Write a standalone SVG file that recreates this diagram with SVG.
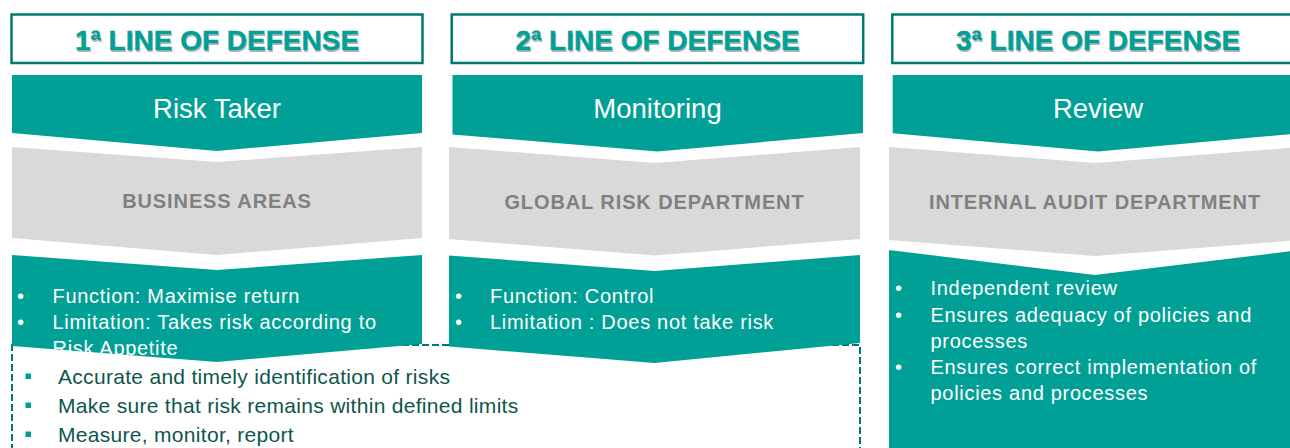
<svg xmlns="http://www.w3.org/2000/svg" width="1290" height="448" viewBox="0 0 1290 448">
<style>
.hdr{fill:#fff;stroke:#007A70;stroke-width:2.5}
.htx{font-family:"Liberation Sans",Arial,sans-serif;font-weight:bold;font-size:28px;fill:#00A096;stroke:#00A096;stroke-width:0.4;text-anchor:middle}
.hsh{font-family:"Liberation Sans",Arial,sans-serif;font-weight:bold;font-size:28px;fill:#7a7a7a;opacity:0.55;text-anchor:middle}
.teal{fill:#00A096}
.gray{fill:#D9D9D9}
.ttl{font-family:"Liberation Sans",Arial,sans-serif;font-size:27.5px;fill:#fff;text-anchor:middle}
.dep{font-family:"Liberation Sans",Arial,sans-serif;font-weight:bold;font-size:20px;letter-spacing:0.9px;fill:#808080;text-anchor:middle}
.bt{font-family:"Liberation Sans",Arial,sans-serif;font-size:20px;letter-spacing:0.7px;fill:#fff}
.dt{font-family:"Liberation Sans",Arial,sans-serif;font-size:21px;letter-spacing:0.3px;fill:#0E564D}
.sq{fill:#00A096}
.dash{fill:none;stroke:#007A70;stroke-width:2;stroke-dasharray:7 3}
</style>
<g id="connectors">
<rect class="dash" x="12" y="345" width="848" height="120"/>
</g>
<g id="col1">
<rect class="hdr" x="11.5" y="14.5" width="411" height="48.5"/>
<text class="hsh" x="218" y="51.5">1ª LINE OF DEFENSE</text>
<text class="htx" x="217" y="50">1ª LINE OF DEFENSE</text>
<polygon class="teal" points="12,75 422,75 422,133 217,151 12,133"/>
<text class="ttl" x="217" y="118">Risk Taker</text>
<polygon class="gray" points="12,147 217,162 422,147 422,238 217,255 12,238"/>
<text class="dep" x="217" y="208">BUSINESS AREAS</text>
<polygon class="teal" points="12,255 217,270 422,255 422,344 217,362 12,346"/>
<text class="bt" x="17" y="302.5">•</text>
<text class="bt" x="52.5" y="302.5">Function: Maximise return</text>
<text class="bt" x="17" y="328.5">•</text>
<text class="bt" x="52.5" y="328.5">Limitation: Takes risk according to</text>
<text class="bt" x="52.5" y="354.5">Risk Appetite</text>
</g>
<g id="col2">
<rect class="hdr" x="451.7" y="14.5" width="411.5" height="48.5"/>
<text class="hsh" x="658.5" y="51.5">2ª LINE OF DEFENSE</text>
<text class="htx" x="657.5" y="50">2ª LINE OF DEFENSE</text>
<polygon class="teal" points="452.5,75 863,75 863,133 657.5,151.5 452.5,134.5"/>
<text class="ttl" x="657.5" y="118">Monitoring</text>
<polygon class="gray" points="449,147 654.5,163 860,147 860,239 654.5,255.5 449,239"/>
<text class="dep" x="654.5" y="208.5">GLOBAL RISK DEPARTMENT</text>
<polygon class="teal" points="449,255.5 654.5,271 860,255 860,343 654.5,363 449,346.5"/>
<text class="bt" x="455" y="303">•</text>
<text class="bt" x="490" y="303">Function: Control</text>
<text class="bt" x="455" y="329">•</text>
<text class="bt" x="490" y="329">Limitation : Does not take risk</text>
</g>
<g id="col3">
<rect class="hdr" x="892.3" y="14.5" width="412" height="48.5"/>
<text class="hsh" x="1099" y="51.5">3ª LINE OF DEFENSE</text>
<text class="htx" x="1098" y="50">3ª LINE OF DEFENSE</text>
<polygon class="teal" points="892.7,75 1304,75 1304,133 1098,151.5 892.7,133.3"/>
<text class="ttl" x="1098" y="118">Review</text>
<polygon class="gray" points="889,147 1095,163 1301,147 1301,240 1095,256 889,240"/>
<text class="dep" x="1095" y="208.5">INTERNAL AUDIT DEPARTMENT</text>
<polygon class="teal" points="889,250 1095,275 1301,250 1301,460 889,460"/>
<text class="bt" x="895" y="295">•</text>
<text class="bt" x="930.5" y="295">Independent review</text>
<text class="bt" x="895" y="321.5">•</text>
<text class="bt" x="930.5" y="321.5">Ensures adequacy of policies and</text>
<text class="bt" x="930.5" y="347.5">processes</text>
<text class="bt" x="895" y="373.5">•</text>
<text class="bt" x="930.5" y="373.5">Ensures correct implementation of</text>
<text class="bt" x="930.5" y="399.5">policies and processes</text>
</g>
<g id="checklist">
<rect class="sq" x="25.5" y="373.5" width="5.5" height="5.5"/>
<text class="dt" x="58" y="383.5">Accurate and timely identification of risks</text>
<rect class="sq" x="25.5" y="402.5" width="5.5" height="5.5"/>
<text class="dt" x="58" y="412.5">Make sure that risk remains within defined limits</text>
<rect class="sq" x="25.5" y="431.5" width="5.5" height="5.5"/>
<text class="dt" x="58" y="441.5">Measure, monitor, report</text>
</g>
</svg>
